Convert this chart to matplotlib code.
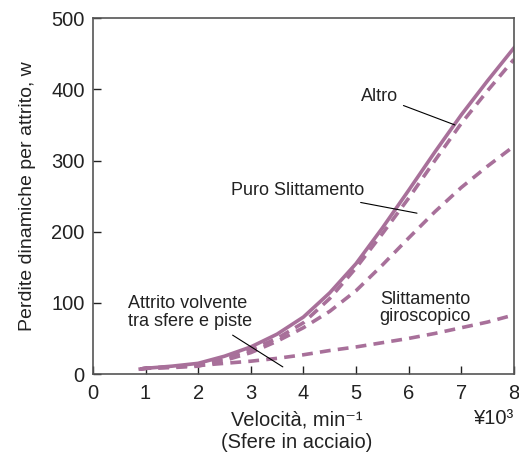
import matplotlib.pyplot as plt

plt.rcParams['font.family'] = ['Liberation Sans', 'DejaVu Sans']

# data (speed in 10^3 min^-1, loss in W)
speed = [0.9, 1, 1.5, 2, 2.5, 3, 3.5, 4, 4.5, 5, 5.5, 6, 6.5, 7, 7.5, 8]
altro = [7, 8, 11, 15, 25, 38, 56, 80, 114, 155, 205, 258, 312, 364, 412, 458]
puro_slittamento = [7, 8, 10, 13, 22, 34, 50, 72, 106, 149, 197, 247, 300, 352, 398, 442]
attrito_volvente = [7, 8, 9, 11, 19, 30, 46, 65, 88, 117, 153, 191, 228, 262, 292, 320]
giroscopico = [7, 8, 10, 12, 15, 18, 22, 27, 33, 38, 44, 50, 57, 65, 73, 83]

xticks = [0, 1, 2, 3, 4, 5, 6, 7, 8]
yticks = [0, 100, 200, 300, 400, 500]

color = '#A8709A'
txt = '#222222'
dash = (0, (3, 2))

fig = plt.figure(figsize=(5.19, 4.55), dpi=100)
ax = fig.add_axes([0.179, 0.178, 0.811, 0.782])

ax.plot(speed, altro, color=color, lw=2.6)
ax.plot(speed, puro_slittamento, color=color, lw=2.6, ls=dash)
ax.plot(speed, attrito_volvente, color=color, lw=2.6, ls=dash)
ax.plot(speed, giroscopico, color=color, lw=2.6, ls=dash)

ax.set_xlim(0, 8)
ax.set_ylim(0, 500)
ax.set_xticks(xticks)
ax.set_yticks(yticks)
ax.tick_params(direction='in', length=6, width=1, labelsize=14.5, colors=txt,
               top=False, right=False)
ax.tick_params(axis='x', pad=7)
ax.tick_params(axis='y', pad=6)
for s in ax.spines.values():
    s.set_color('#555555')
    s.set_linewidth(1.2)

ax.set_ylabel("Perdite dinamiche per attrito, w", fontsize=14, color=txt)
ax.yaxis.set_label_coords(-0.135, 0.5)

# labels with leader lines
lbl = dict(fontsize=13, color=txt)
ax.annotate("Altro", xy=(6.88, 350), xytext=(5.80, 390), ha='right', va='center',
            arrowprops=dict(arrowstyle='-', color='black', lw=0.8, shrinkA=2, shrinkB=0), **lbl)
ax.annotate("Puro Slittamento", xy=(6.16, 226), xytext=(5.15, 258), ha='right', va='center',
            arrowprops=dict(arrowstyle='-', color='black', lw=0.8, shrinkA=3, shrinkB=0), **lbl)
ax.annotate("Attrito volvente\ntra sfere e piste", xy=(3.61, 10), xytext=(0.665, 86),
            ha='left', va='center', linespacing=1.05,
            arrowprops=dict(arrowstyle='-', color='black', lw=0.8, shrinkA=3, shrinkB=0,
                            relpos=(0.78, 0)), **lbl)
ax.text(6.31, 93, "Slittamento\ngiroscopico", ha='center', va='center', linespacing=1.05, **lbl)

fig.text(0.572, 0.077, "Velocità, min⁻¹", ha='center', va='center', fontsize=14.5, color=txt)
fig.text(0.572, 0.027, "(Sfere in acciaio)", ha='center', va='center', fontsize=14.5, color=txt)
fig.text(0.990, 0.080, "¥10³", ha='right', va='center', fontsize=14.5, color=txt)

fig.savefig("out.png", dpi=100)
